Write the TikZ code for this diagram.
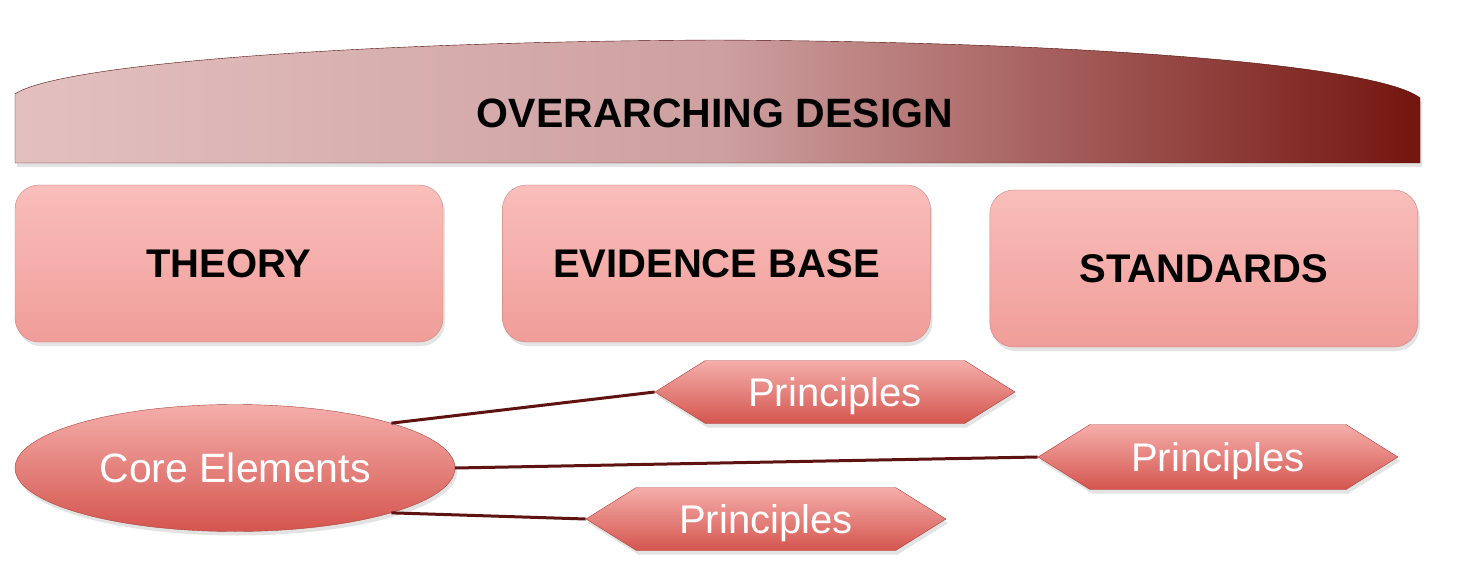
\documentclass[tikz,border=0pt]{standalone}
\usepackage{fontspec}
\setmainfont{Liberation Sans}
\usetikzlibrary{positioning, shapes.geometric, shapes.symbols, shadows}
\definecolor{archlight}{HTML}{E3C0C0}
\definecolor{archmid}{HTML}{CEA0A0}
\definecolor{archdeep}{HTML}{AC6A68}
\definecolor{archdark}{HTML}{74150F}
\definecolor{boxtop}{HTML}{F9BEBB}
\definecolor{boxbottom}{HTML}{F09D99}
\definecolor{nodetop}{HTML}{F5AEAB}
\definecolor{nodebottom}{HTML}{D4554E}
\definecolor{linkred}{HTML}{5E1311}
\pgfdeclarehorizontalshading{archshade}{100bp}{
  color(0bp)=(archlight); color(25bp)=(archlight); color(50bp)=(archmid);
  color(60bp)=(archdeep); color(75bp)=(archdark); color(100bp)=(archdark)}
\tikzset{
  x=1pt, y=1pt,
  node distance=59pt,
  soft shadow/.style={drop shadow={opacity=.22, shadow xshift=2pt, shadow yshift=-4pt}},
  pillar/.style={rectangle, rounded corners=24pt, draw=boxbottom!85!black, thin,
    top color=boxtop, bottom color=boxbottom, soft shadow,
    minimum width=428pt, minimum height=157pt, inner sep=0pt,
    font=\fontsize{40}{44}\selectfont\bfseries},
  core/.style={ellipse, draw=nodebottom!80!black, thin,
    top color=nodetop, bottom color=nodebottom, soft shadow,
    minimum width=440pt, minimum height=127pt, inner sep=0pt,
    text=white, font=\fontsize{41}{44}\selectfont},
  principle/.style={signal, signal to=west and east, signal pointer angle=64,
    draw=nodebottom!80!black, thin, top color=nodetop, bottom color=nodebottom,
    soft shadow, minimum width=360pt, minimum height=63pt, inner sep=0pt,
    text depth=0pt, text=white, font=\fontsize{40}{44}\selectfont},
  link/.style={draw=linkred, line width=3pt},
}

\begin{document}
\begin{tikzpicture}
  \useasboundingbox (0,0) rectangle (1461,-577);
  \fill[white] (0,0) rectangle (1461,-577);

  % arch across the top
  \path[shading=archshade, draw=archdark!70!black, thin, soft shadow]
    (15,-163) -- (15,-94)
    .. controls (55,-66) and (330,-42) .. (715,-40)
    .. controls (1100,-42) and (1380,-66) .. (1420,-98)
    -- (1420,-163) -- cycle;
  \node[font=\fontsize{41}{44}\selectfont\bfseries] (design) at (715,-113) {OVERARCHING DESIGN};

  % three pillars
  \node[pillar] (theory) at (229,-263.5) {THEORY};
  \node[pillar, right=of theory] (evidence) {EVIDENCE BASE};
  \node[pillar, right=of evidence, yshift=-5pt] (standards) {STANDARDS};

  % core elements and principles
  \node[core] (core) at (235,-468) {Core Elements};
  \node[principle] (p1) at (835,-392) {Principles};
  \node[principle, minimum height=65pt] (p2) at (1218,-457) {Principles};
  \node[principle] (p3) at (766,-519) {Principles};

  \draw[link] (core.16) -- (p1.west);
  \draw[link] (core.east) -- (p2.west);
  \draw[link] (core.-16) -- (p3.west);
\end{tikzpicture}
\end{document}
